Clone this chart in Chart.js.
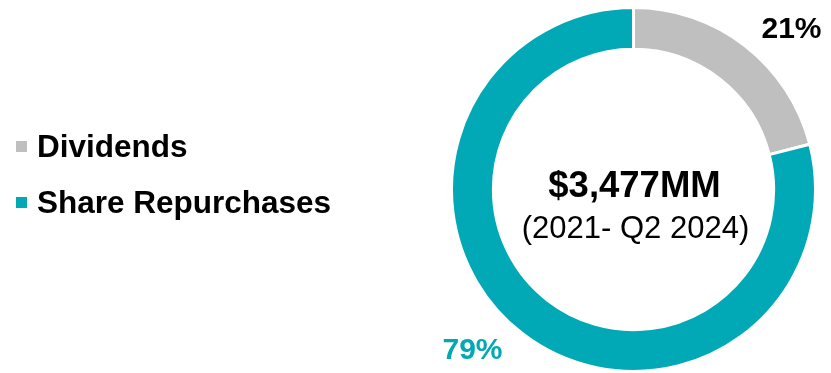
<!DOCTYPE html>
<html>
<head>
<meta charset="utf-8">
<script src="https://cdn.jsdelivr.net/npm/chart.js@4/dist/chart.umd.min.js"></script>
<style>
  html, body { margin: 0; padding: 0; background: #fff; }
  #wrap { width: 831px; height: 373px; }
</style>
</head>
<body>
<div id="wrap"><canvas id="myChart" width="831" height="373"></canvas></div>
<script>
// Capital returned, split by type
var categories = ['Dividends', 'Share Repurchases'];
var shares = [21, 79];
var colors = ['#BFBFBF', '#00A9B5'];
var labelColors = ['#000000', '#00A9B5'];
var totalLabel = '$3,477MM';
var periodLabel = '(2021- Q2 2024)';

var FONT = '"Liberation Sans", Arial, Helvetica, sans-serif';

// Centre text, outside percentage labels and the left-hand legend
var overlay = {
  id: 'overlay',
  afterDraw: function (chart) {
    var ctx = chart.ctx;
    var arc = chart.getDatasetMeta(0).data[0];
    var cx = arc.x, cy = arc.y;

    ctx.save();
    ctx.textAlign = 'center';
    ctx.textBaseline = 'alphabetic';
    ctx.fillStyle = '#000';
    ctx.font = 'bold 36.5px ' + FONT;
    ctx.fillText(totalLabel, cx + 1, cy + 7);
    ctx.font = '31px ' + FONT;
    ctx.fillText(periodLabel, cx + 2, cy + 48);

    // percentages sit off the ring on the diagonals
    var offsets = [[158, -152], [-161, 169]];
    ctx.font = 'bold 30px ' + FONT;
    shares.forEach(function (v, i) {
      ctx.fillStyle = labelColors[i];
      ctx.fillText(v + '%', cx + offsets[i][0], cy + offsets[i][1]);
    });

    // legend
    ctx.textAlign = 'left';
    ctx.font = 'bold 31.5px ' + FONT;
    var rows = [157, 213];
    categories.forEach(function (name, i) {
      ctx.fillStyle = colors[i];
      ctx.fillRect(16, rows[i] - 16, 11, 11);
      ctx.fillStyle = '#000';
      ctx.fillText(name, 37, rows[i]);
    });
    ctx.restore();
  }
};

var ctx = document.getElementById('myChart').getContext('2d');
var chart = new Chart(ctx, {
  type: 'doughnut',
  data: {
    labels: categories,
    datasets: [{
      data: shares,
      backgroundColor: colors,
      borderColor: '#ffffff',
      borderWidth: 3,
      hoverOffset: 0
    }]
  },
  options: {
    responsive: false,
    animation: false,
    cutout: '77%',
    layout: { padding: { left: 450, right: 14, top: 6, bottom: 0 } },
    plugins: {
      legend: { display: false },
      tooltip: { enabled: false }
    }
  },
  plugins: [overlay]
});
</script>
</body>
</html>
